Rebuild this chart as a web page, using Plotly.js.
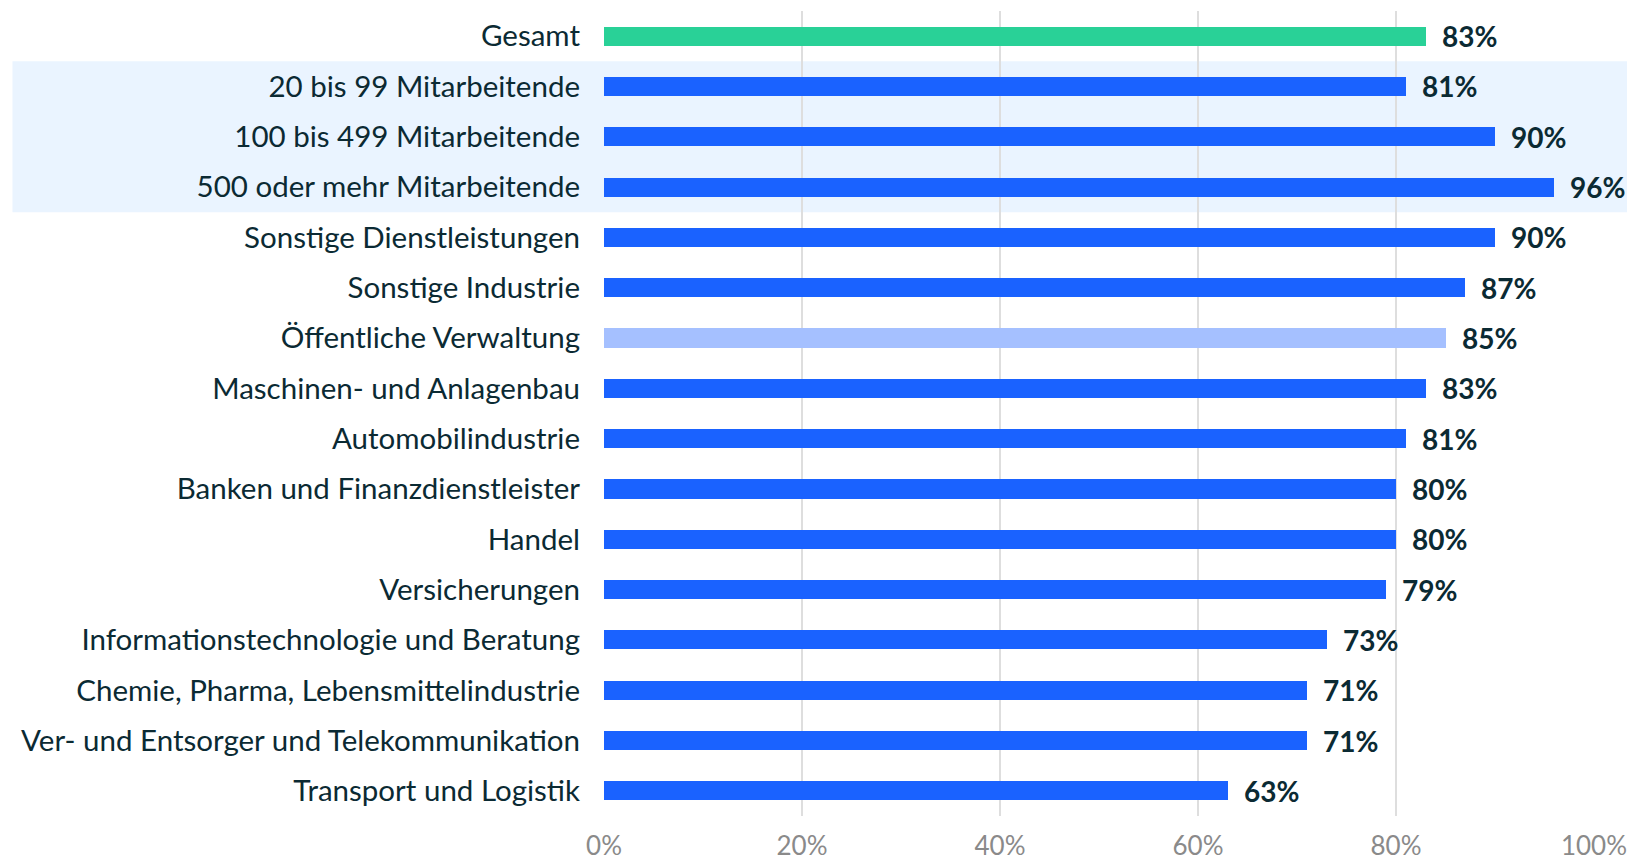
<!DOCTYPE html>
<html><head><meta charset="utf-8">
<script src="https://cdn.plot.ly/plotly-3.0.1.min.js"></script>
<style>html,body{margin:0;padding:0;background:#fff;}#chart{width:1632px;height:862px;}</style>
</head><body><div id="chart"></div>
<script>
const categories = [
  "Gesamt",
  "20 bis 99 Mitarbeitende",
  "100 bis 499 Mitarbeitende",
  "500 oder mehr Mitarbeitende",
  "Sonstige Dienstleistungen",
  "Sonstige Industrie",
  "Öffentliche Verwaltung",
  "Maschinen- und Anlagenbau",
  "Automobilindustrie",
  "Banken und Finanzdienstleister",
  "Handel",
  "Versicherungen",
  "Informationstechnologie und Beratung",
  "Chemie, Pharma, Lebensmittelindustrie",
  "Ver- und Entsorger und Telekommunikation",
  "Transport und Logistik"
];
const values = [83, 81, 90, 96, 90, 87, 85, 83, 81, 80, 80, 79, 73, 71, 71, 63];
const barColors = ["#29D197","#1A62FF","#1A62FF","#1A62FF","#1A62FF","#1A62FF","#A5C0FF","#1A62FF","#1A62FF","#1A62FF","#1A62FF","#1A62FF","#1A62FF","#1A62FF","#1A62FF","#1A62FF"];
const tickVals = [0, 20, 40, 60, 80, 100];
const tickText = ["0%", "20%", "40%", "60%", "80%", "100%"];
const highlightRows = ["20 bis 99 Mitarbeitende", "500 oder mehr Mitarbeitende"];

const FONT = "Lato, 'Noto Sans', sans-serif";
const TXT = "#0B2A33";

const i0 = categories.indexOf(highlightRows[0]);
const i1 = categories.indexOf(highlightRows[1]);

const trace = {
  type: "bar",
  orientation: "h",
  y: categories,
  x: values,
  marker: {color: barColors, line: {width: 0}},
  width: 0.38,
  hoverinfo: "none"
};

const annotations = categories.map((c, i) => ({
  x: values[i], y: c, xref: "x", yref: "y",
  text: "<b>" + values[i] + "%</b>",
  showarrow: false, xanchor: "left", xshift: 14,
  font: {family: FONT, size: 28, color: TXT}
}));

const layout = {
  width: 1632, height: 862,
  margin: {l: 604, r: 38, t: 11, b: 46},
  paper_bgcolor: "#fff", plot_bgcolor: "rgba(0,0,0,0)",
  showlegend: false,
  bargap: 0,
  xaxis: {
    range: [0, 100], tickvals: tickVals, ticktext: tickText,
    showgrid: true, gridcolor: "#DEDEDE", gridwidth: 1.5,
    zeroline: false, showline: false, ticks: "",
    tickfont: {family: FONT, size: 26, color: "#8A8A8A"},
    ticklabelstandoff: 12, fixedrange: true
  },
  yaxis: {
    type: "category", autorange: "reversed",
    showgrid: false, zeroline: false, showline: false, ticks: "",
    tickfont: {family: FONT, size: 29.5, color: TXT},
    ticklabelstandoff: 23, fixedrange: true
  },
  shapes: [{
    type: "rect", layer: "below",
    xref: "paper", yref: "y",
    x0: (12.5 - 604) / 990, x1: (1627 - 604) / 990,
    y0: i0 - 0.5, y1: i1 + 0.5,
    fillcolor: "#EAF4FF", line: {width: 0}
  }],
  annotations: annotations
};

Plotly.newPlot("chart", [trace], layout, {displayModeBar: false, staticPlot: true});
</script></body></html>
